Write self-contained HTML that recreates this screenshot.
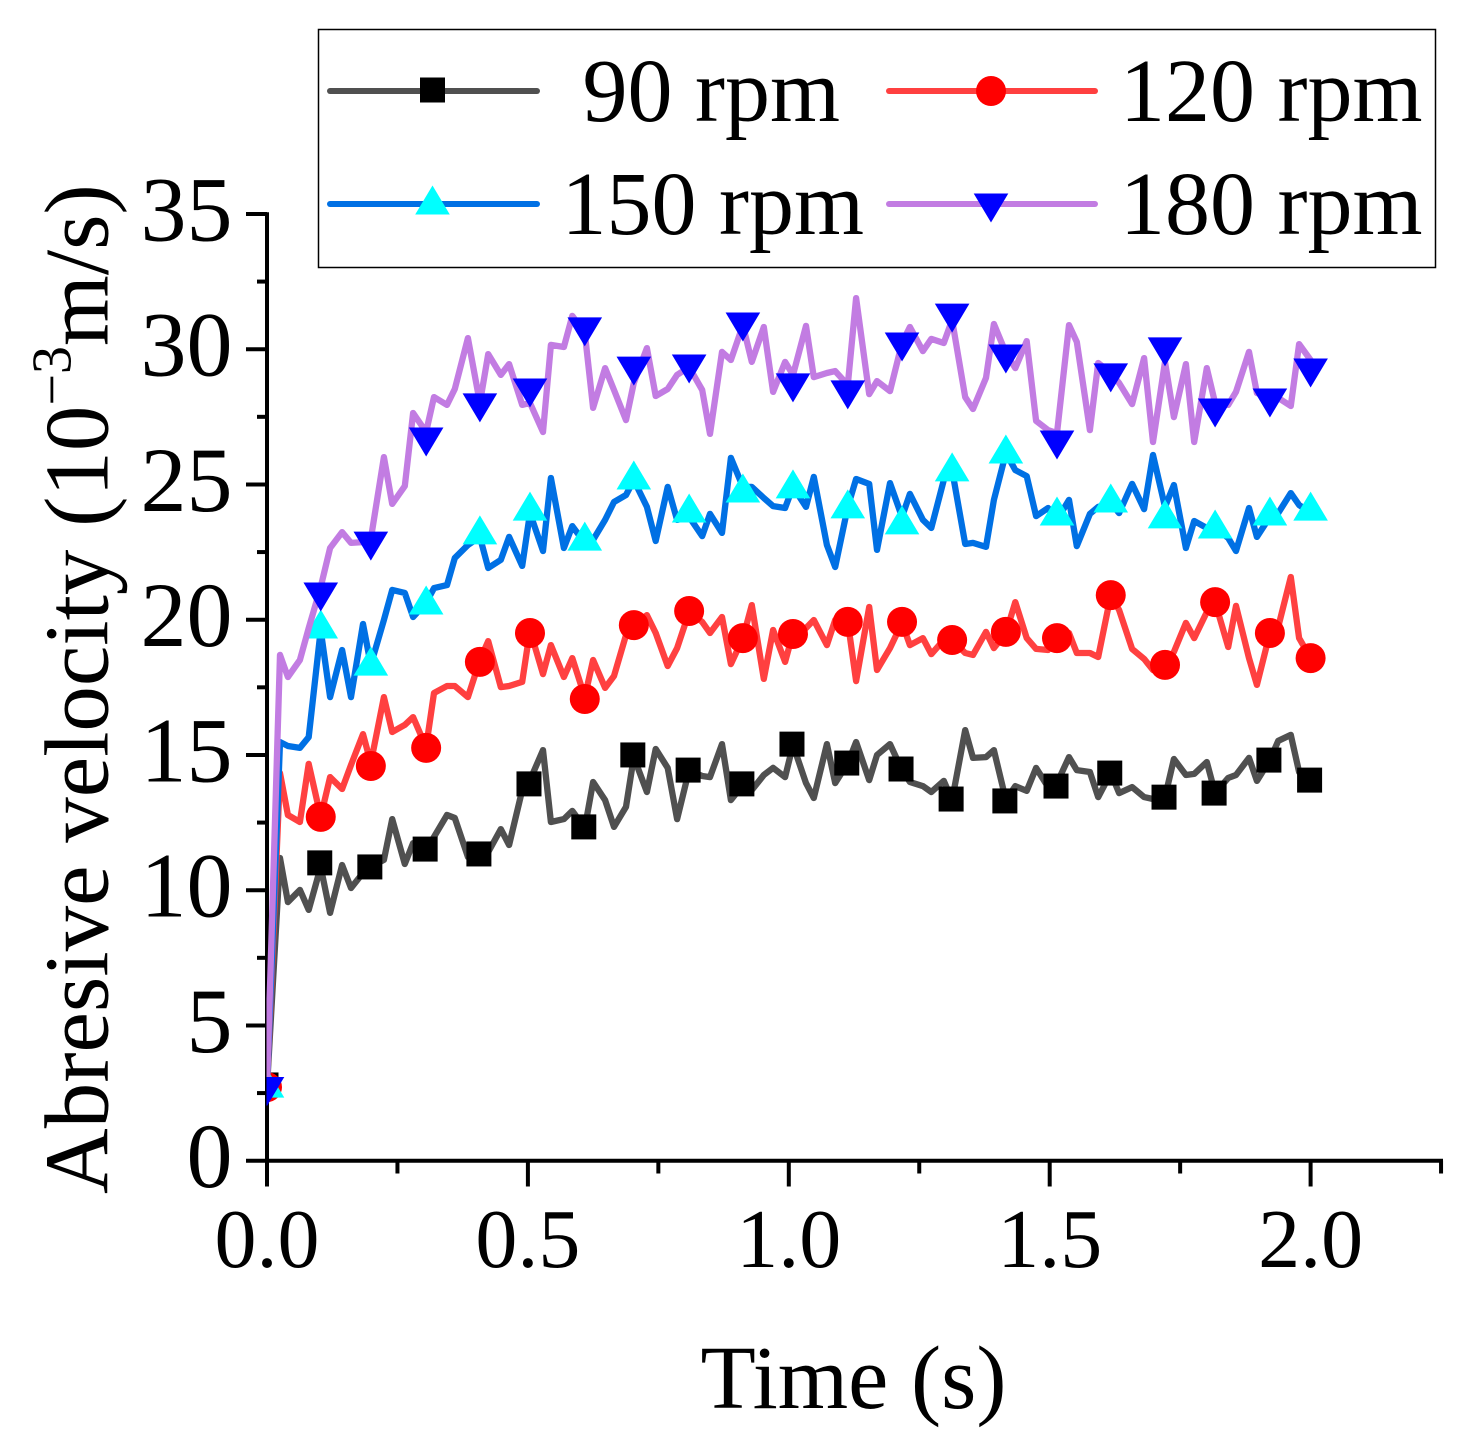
<!DOCTYPE html>
<html>
<head>
<meta charset="utf-8">
<title>Abresive velocity chart</title>
<style>
html,body{margin:0;padding:0;background:#fff;}
svg{display:block;}
text{font-family:"Liberation Serif","Times New Roman",serif;fill:#000;font-size:90px;}
</style>
</head>
<body>
<svg id="chart" xmlns="http://www.w3.org/2000/svg" width="1470" height="1448" viewBox="0 0 1470 1448">
  <defs>
    <clipPath id="plot-clip"><rect x="266.5" y="150" width="1203" height="1060"/></clipPath>
  </defs>
  <rect x="0" y="0" width="1470" height="1448" fill="#fff"/>
  <g id="axes"></g>
  <g id="series" clip-path="url(#plot-clip)"></g>
  <text x="853.5" y="1408" text-anchor="middle" style="font-size:90.5px">Time (s)</text>
  <text transform="translate(107.3,1194) rotate(-90)" x="0" y="0" style="font-size:91px">Abresive velocity (10<tspan dy="-37" style="font-size:56px">−3</tspan><tspan dy="37">m/s)</tspan></text>
  <g>
    <rect x="318.5" y="29.5" width="1117" height="238" fill="#fff" stroke="#000" stroke-width="1.5"/>
    <g id="legend-items"></g>
    <text x="582.5" y="121">90 rpm</text>
    <text x="1120" y="121">120 rpm</text>
    <text x="561.5" y="234">150 rpm</text>
    <text x="1120" y="234">180 rpm</text>
  </g>
</svg>
<script>
const times = [
0,.025,.040,.063,.080,.103,.121,.144,.161,.184,
.199,.224,.240,.264,.280,.305,.320,.345,.360,.385,
.408,.424,.448,.464,.489,.504,.529,.544,.569,.585,
.609,.625,.648,.665,.688,.703,.728,.745,.768,.786,
.809,.834,.849,.872,.889,.912,.929,.952,.970,.993,
1.008,1.033,1.048,1.073,1.089,1.113,1.129,1.154,1.169,1.194,
1.217,1.232,1.257,1.273,1.297,1.313,1.338,1.353,1.378,1.393,
1.416,1.434,1.456,1.474,1.497,1.514,1.537,1.552,1.577,1.593,
1.617,1.633,1.658,1.681,1.698,1.721,1.738,1.761,1.777,1.801,
1.817,1.842,1.857,1.882,1.897,1.922,1.938,1.962,1.978,2.0];

const rpm90 = [
2.72,11.19,9.56,10.01,9.27,10.86,9.16,10.93,10.08,10.64,
10.86,11.12,12.63,10.97,11.74,11.49,11.97,12.78,12.67,11.23,
11.30,11.41,12.26,11.67,13.70,14.07,15.18,12.52,12.63,12.93,
12.30,14.00,13.33,12.34,13.08,14.92,13.63,15.22,14.52,12.63,
14.44,14.22,14.18,15.40,13.33,13.89,13.70,14.26,14.52,14.18,
15.37,13.96,13.41,15.40,13.96,14.70,15.48,14.07,15.00,15.40,
14.44,14.00,13.85,13.63,14.04,13.33,15.92,14.89,14.92,15.18,
13.33,13.85,13.67,14.52,13.81,13.96,14.92,14.44,14.37,13.44,
14.33,13.59,13.81,13.44,13.37,13.44,14.85,14.26,14.30,14.74,
13.59,14.15,14.26,14.89,14.04,14.81,15.52,15.74,14.37,14.07];

const rpm120 = [
2.72,14.33,12.78,12.52,14.67,12.71,14.18,13.74,14.63,15.77,
14.70,17.14,15.85,16.11,16.40,15.29,17.29,17.55,17.55,17.14,
18.51,19.21,17.51,17.55,17.70,19.62,17.99,19.06,17.88,18.58,
17.14,18.51,17.48,17.92,19.43,19.80,20.17,19.51,18.29,18.95,
20.28,19.92,19.51,20.10,18.36,19.32,20.54,17.81,19.62,18.44,
19.51,19.69,19.99,19.06,19.99,19.92,17.73,20.47,18.14,18.95,
19.88,19.06,19.32,18.73,19.25,19.25,18.77,18.70,19.55,18.95,
19.51,20.65,19.32,18.92,18.88,19.32,19.51,18.77,18.77,18.62,
20.91,20.36,18.92,18.55,18.14,18.33,18.81,19.88,19.32,20.28,
20.65,18.99,20.51,18.58,17.59,19.51,19.73,21.58,19.32,18.58];

const rpm150 = [
2.72,15.48,15.33,15.26,15.66,19.62,17.14,18.88,17.14,19.84,
18.33,19.99,21.10,20.99,20.10,20.62,21.17,21.28,22.28,22.76,
23.06,21.91,22.21,23.06,21.99,23.94,22.54,25.24,22.65,23.46,
22.84,22.95,23.69,24.35,24.61,25.16,24.17,22.91,24.91,23.69,
23.80,23.09,23.91,23.21,25.98,24.91,24.91,24.50,24.20,24.13,
24.91,24.17,25.28,22.76,21.95,24.17,25.20,25.02,22.58,25.05,
23.80,24.65,23.69,23.39,25.16,25.53,22.80,22.84,22.69,24.43,
26.16,25.53,25.31,23.83,24.13,23.69,24.43,22.72,23.91,24.17,
24.31,23.94,25.02,24.09,26.09,24.17,24.98,22.65,23.65,23.39,
23.39,23.02,22.54,24.13,23.06,23.80,23.94,24.68,24.24,23.94];

const rpm180 = [
2.72,18.70,17.88,18.51,19.69,21.21,22.65,23.24,22.84,22.87,
22.98,26.01,24.28,24.94,27.64,26.94,28.23,27.94,28.53,30.41,
28.01,29.82,29.05,29.45,27.94,28.01,26.94,30.16,30.08,31.23,
30.60,27.83,29.30,28.49,27.38,28.75,30.04,28.27,28.53,29.05,
29.34,28.49,26.87,29.90,29.60,30.89,29.53,30.82,28.42,29.53,
29.05,30.86,28.97,29.12,29.19,28.68,31.89,28.34,28.82,28.45,
30.23,30.82,29.93,30.38,30.23,31.08,28.23,27.79,28.94,30.93,
29.86,29.30,30.30,27.35,27.01,26.90,30.89,30.27,27.01,29.49,
29.12,28.75,27.97,29.67,26.57,29.53,27.49,29.45,26.57,29.30,
28.01,27.94,28.42,29.90,28.38,28.23,28.20,27.90,30.19,29.60];

const markers90 = [2.80,11.01,10.86,11.52,11.34,13.93,12.34,15.00,14.44,13.93,15.40,14.70,14.48,13.37,13.30,13.85,14.33,13.44,13.59,14.81,14.07];
const markers120 = [2.72,12.71,14.59,15.26,18.44,19.51,17.07,19.80,20.32,19.32,19.47,19.92,19.92,19.25,19.55,19.32,20.91,18.33,20.65,19.51,18.58];
const markers150 = [2.87,19.84,18.47,20.73,23.32,24.20,23.09,25.35,24.13,24.87,25.02,24.28,23.69,25.65,26.31,24.02,24.50,23.91,23.54,24.02,24.20];
const markers180 = [2.56,20.84,22.72,26.57,27.83,28.38,30.64,29.19,29.27,30.82,28.57,28.31,30.08,31.15,29.64,26.46,28.94,29.90,27.64,28.01,29.12];

const xTickLabels = ["0.0","0.5","1.0","1.5","2.0"];
const yTickLabels = ["0","5","10","15","20","25","30","35"];
const legendNames = ["90 rpm","120 rpm","150 rpm","180 rpm"];

const NS = "http://www.w3.org/2000/svg";
const xScale = function(t){ return 267 + t * 521.8; };
const yScale = function(v){ return 1160.7 - v * 27.05; };

function make(tag, attrs, parent){
  const el = document.createElementNS(NS, tag);
  for (const k in attrs) el.setAttribute(k, attrs[k]);
  parent.appendChild(el);
  return el;
}

const axes = document.getElementById("axes");
const xAxisLine = make("line", {x1:246, y1:1160.7, x2:1443, y2:1160.7, stroke:"#000", "stroke-width":4}, axes);


const yAxisLine = make("line", {x1:267, y1:212.2, x2:267, y2:1186.5, stroke:"#000", "stroke-width":4}, axes);



for (let t = 0; t <= 2.25001; t += 0.25) {
  const major = Math.round(t / 0.25) % 2 === 0;
  const tick = make("line", {x1:xScale(t), y1:1160.7, x2:xScale(t), y2: major ? 1186.5 : 1173.5, stroke:"#000", "stroke-width":4}, axes);
  
  
}
for (let v = 2.5; v <= 35.001; v += 2.5) {
  const major = Math.round(v / 2.5) % 2 === 0;
  const tick = make("line", {x1: major ? 246 : 257, y1:yScale(v), x2:267, y2:yScale(v), stroke:"#000", "stroke-width":4}, axes);
  
  
}
xTickLabels.forEach(function(label){
  const txt = make("text", {x:xScale(parseFloat(label)), y:1267, "text-anchor":"middle", style:"font-size:84px"}, axes);
  txt.textContent = label;
  
  
});
yTickLabels.forEach(function(label){
  const txt = make("text", {x:232.5, y:yScale(parseFloat(label)) + 26.5, "text-anchor":"end", style:"font-size:92px"}, axes);
  txt.textContent = label;
  
  
});

function drawMarker(parent, shape, color, cx, cy){
  let el;
  if (shape === "square") {
    el = make("rect", {x:cx - 12.5, y:cy - 12.5, width:25, height:25, fill:color}, parent);
  } else if (shape === "circle") {
    el = make("circle", {cx:cx, cy:cy, r:15, fill:color}, parent);
  } else if (shape === "up") {
    el = make("polygon", {points:(cx-17.3)+","+(cy+14.5)+" "+(cx+17.3)+","+(cy+14.5)+" "+cx+","+(cy-14.5), fill:color}, parent);
  } else {
    el = make("polygon", {points:(cx-17.3)+","+(cy-14.5)+" "+(cx+17.3)+","+(cy-14.5)+" "+cx+","+(cy+14.5), fill:color}, parent);
  }
  return el;
}

const seriesRoot = document.getElementById("series");
function drawSeries(key, values, markerValues, lineColor, markerColor, shape, dx){
  const group = make("g", {}, seriesRoot);
  
  
  const pts = values.map(function(v, i){ return xScale(times[i]).toFixed(1) + "," + yScale(v).toFixed(1); }).join(" ");
  const line = make("polyline", {points:pts, fill:"none", stroke:lineColor, "stroke-width":6.3, "stroke-linejoin":"round", "stroke-linecap":"round"}, group);
  
  
  const last = times.length - 1;
  let m = 0;
  times.forEach(function(t, i){
    if (i % 5 === 0 || i === last) {
      const mk = drawMarker(group, shape, markerColor, xScale(t) + dx, yScale(markerValues[m]));
      
      
      m++;
    }
  });
}
drawSeries("90-rpm", rpm90, markers90, "#505050", "#000000", "square", -1);
drawSeries("120-rpm", rpm120, markers120, "#ff4040", "#ff0000", "circle", 0);
drawSeries("150-rpm", rpm150, markers150, "#0070e4", "#00ffff", "up", 0);
drawSeries("180-rpm", rpm180, markers180, "#c27ce2", "#0000ff", "down", 0);

const legendItems = document.getElementById("legend-items");
function legendEntry(name, x1, x2, y, lineColor, markerColor, shape, my){
  const ln = make("line", {x1:x1, y1:y, x2:x2, y2:y, stroke:lineColor, "stroke-width":6, "stroke-linecap":"round"}, legendItems);
  
  
  const mk = drawMarker(legendItems, shape, markerColor, (x1 + x2) / 2 - 1, my);
  
  
}
legendEntry(legendNames[0].replace(" ", "-"), 330, 537, 91, "#505050", "#000000", "square", 90);
legendEntry(legendNames[1].replace(" ", "-"), 889, 1095, 91, "#ff4040", "#ff0000", "circle", 91);
legendEntry(legendNames[2].replace(" ", "-"), 330, 537, 204, "#0070e4", "#00ffff", "up", 200);
legendEntry(legendNames[3].replace(" ", "-"), 889, 1095, 204, "#c27ce2", "#0000ff", "down", 208);
</script>
</body>
</html>
